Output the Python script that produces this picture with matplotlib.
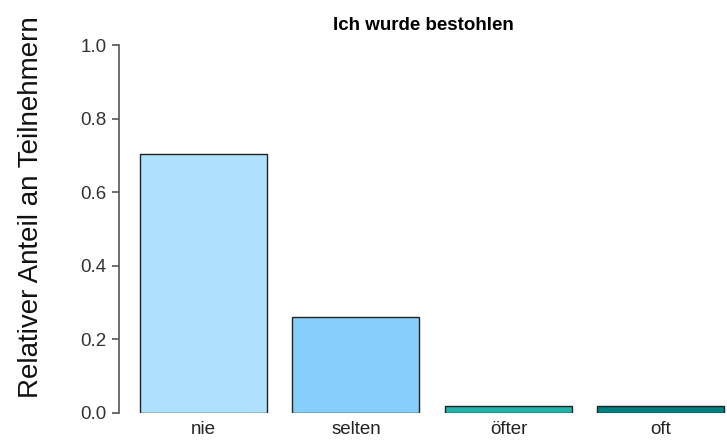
import matplotlib
matplotlib.use("Agg")
import matplotlib.pyplot as plt

categories = ["nie", "selten", "öfter", "oft"]
values = [0.704, 0.262, 0.018, 0.018]
colors = ["#B0E2FF", "#87CEFA", "#20B2AA", "#008080"]
yticks = [0.0, 0.2, 0.4, 0.6, 0.8, 1.0]

plt.rcParams['font.family'] = ['Liberation Sans', 'DejaVu Sans']

fig = plt.figure(figsize=(7.27, 4.47), dpi=100)
ax = fig.add_axes([0.1637, 0.0761, 0.8363, 0.8232])

x = list(range(len(categories)))
ax.bar(x, values, width=0.833, color=colors, edgecolor="#222222", linewidth=1.0)

ax.set_xlim(-0.554, 3.433)
ax.set_ylim(0, 1.0)
ax.set_yticks(yticks)
ax.set_yticklabels([f"{t:.1f}" for t in yticks], fontsize=13.5, color="#333333")
ax.set_xticks(x)
ax.set_xticklabels(categories, fontsize=13.5, color="#222222")
ax.tick_params(axis="x", length=0, pad=6)
ax.tick_params(axis="y", length=5, color="#555555", width=1.2, pad=4)

for s in ["top", "right", "bottom"]:
    ax.spines[s].set_visible(False)
ax.spines["left"].set_color("#555555")
ax.spines["left"].set_linewidth(1.2)

ax.set_ylabel("Relativer Anteil an Teilnehmern", fontsize=20, color="#111111")
ax.yaxis.set_label_coords(-0.123, 0.56)
ax.set_title("Ich wurde bestohlen", fontsize=13.5, fontweight="bold", pad=11)

fig.savefig("out.png", dpi=100)
